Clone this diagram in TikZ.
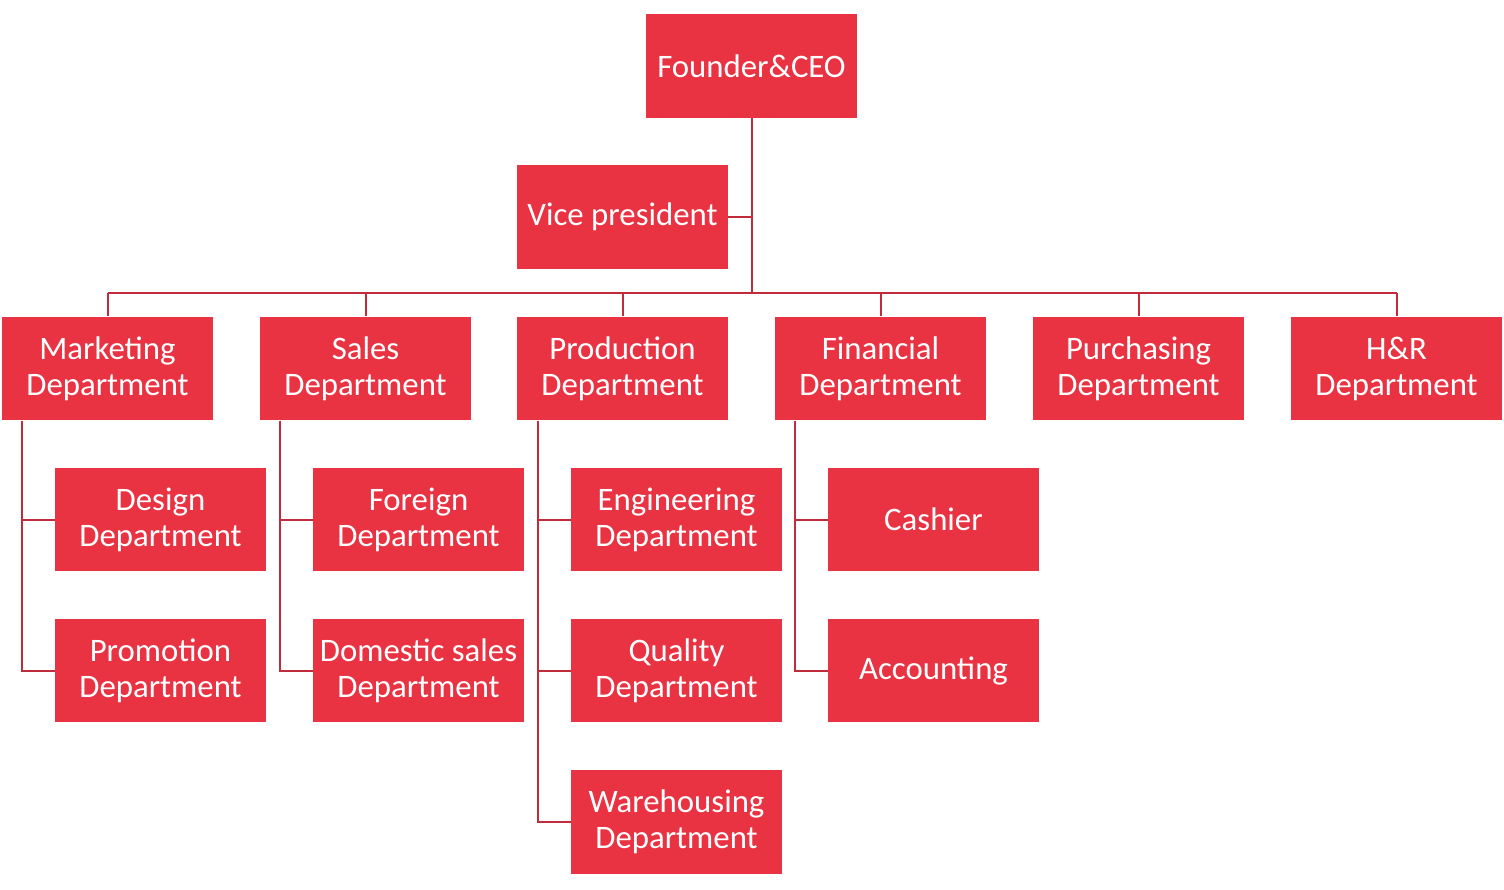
\documentclass[tikz,border=0pt]{standalone}
\usepackage{fontspec}
\setmainfont{Carlito}
\usetikzlibrary{calc}
\definecolor{boxred}{RGB}{233,50,66}
\definecolor{linered}{RGB}{192,44,60}
\begin{document}
\begin{tikzpicture}[x=0.5pt,y=-0.5pt,
  box/.style={rectangle, fill=boxred, draw=none, inner sep=0pt,
    minimum width=105.5pt, minimum height=51.75pt, align=center,
    text=white, font=\fontsize{16.4pt}{18pt}\selectfont},
  conn/.style={draw=linered, line width=1pt}]
\useasboundingbox (0,0) rectangle (1504,889);
\node[box, minimum height=52pt] (ceo) at (751.5,66) {Founder\&CEO};
\node[box, minimum height=52pt] (vp) at (622.5,217) {Vice president};
\node[box] (mkt) at (107.5,368.5) {Marketing\\Department};
\node[box] (sales) at (365.5,368.5) {Sales\\Department};
\node[box] (prod) at (622.5,368.5) {Production\\Department};
\node[box] (fin) at (880.5,368.5) {Financial\\Department};
\node[box] (pur) at (1138.5,368.5) {Purchasing\\Department};
\node[box] (hr) at (1396.5,368.5) {H\&R\\Department};
\node[box] (design) at (160.5,519.5) {Design\\Department};
\node[box] (foreign) at (418.5,519.5) {Foreign\\Department};
\node[box] (eng) at (676.5,519.5) {Engineering\\Department};
\node[box] (cash) at (933.5,519.5) {Cashier};
\node[box] (promo) at (160.5,670.5) {Promotion\\Department};
\node[box] (dom) at (418.5,670.5) {Domestic sales\\Department};
\node[box] (qual) at (676.5,670.5) {Quality\\Department};
\node[box] (acc) at (933.5,670.5) {Accounting};
\node[box, minimum height=52pt] (ware) at (676.5,822) {Warehousing\\Department};
\coordinate (bus) at (751.5,293);
\draw[conn] (ceo.south) -- (bus);
\draw[conn] (vp.east) -- (vp.east -| ceo.south);
\draw[conn] (mkt.north |- bus) -- (hr.north |- bus);
\foreach \n in {mkt,sales,prod,fin,pur,hr}
  \draw[conn] (\n.north) -- (\n.north |- bus);
\draw[conn] ($(mkt.south west)+(20,0)$) |- (design.west);
\draw[conn] ($(mkt.south west)+(20,0)$) |- (promo.west);
\draw[conn] ($(sales.south west)+(20,0)$) |- (foreign.west);
\draw[conn] ($(sales.south west)+(20,0)$) |- (dom.west);
\draw[conn] ($(prod.south west)+(21,0)$) |- (eng.west);
\draw[conn] ($(prod.south west)+(21,0)$) |- (qual.west);
\draw[conn] ($(prod.south west)+(21,0)$) |- (ware.west);
\draw[conn] ($(fin.south west)+(20,0)$) |- (cash.west);
\draw[conn] ($(fin.south west)+(20,0)$) |- (acc.west);
\end{tikzpicture}
\end{document}
